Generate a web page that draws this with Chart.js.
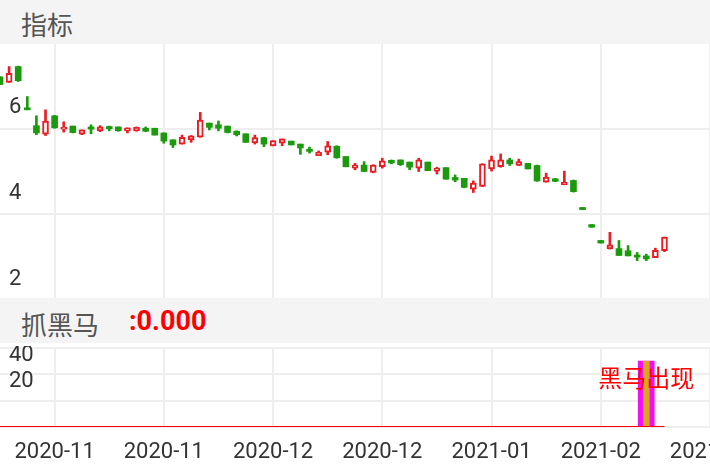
<!DOCTYPE html>
<html>
<head>
<meta charset="utf-8">
<script src="https://cdn.jsdelivr.net/npm/chart.js@4.4.0/dist/chart.umd.min.js"></script>
<style>
  html, body { margin: 0; padding: 0; background: #fff; }
  #wrap { position: relative; width: 710px; height: 472px; overflow: hidden; }
  .band { position: absolute; left: 0; width: 710px; background: #f4f4f4; z-index: 2; }
  .band span { position: absolute; white-space: nowrap; }
  .title { color: #555; font: 26px "Noto Sans CJK SC", sans-serif; }
  .value { color: #ff0000; font: bold 27px Roboto, sans-serif; }
  #priceChart { position: absolute; left: 0; top: 43px; }
  #signalChart { position: absolute; left: 0; top: 346px; }
</style>
</head>
<body>
<div id="wrap">
  <div class="band" style="top:0;height:44px">
    <span class="title" style="left:21px;top:5px">指标</span>
  </div>
  <canvas id="priceChart" width="710" height="257"></canvas>
  <div class="band" style="top:298px;height:45px">
    <span class="title" style="left:21px;top:7px">抓黑马</span>
    <span class="value" style="left:129px;top:7px">:0.000</span>
  </div>
  <canvas id="signalChart" width="710" height="126"></canvas>
</div>
<script>
// trading days (last few slots are empty, the axis runs past the data)
const tradeDates = [
  '2020-10-30','2020-11-02','2020-11-03','2020-11-04','2020-11-05','2020-11-06',
  '2020-11-09','2020-11-10','2020-11-11','2020-11-12','2020-11-13',
  '2020-11-16','2020-11-17','2020-11-18','2020-11-19','2020-11-20',
  '2020-11-23','2020-11-24','2020-11-25','2020-11-26','2020-11-27',
  '2020-11-30','2020-12-01','2020-12-02','2020-12-03','2020-12-04',
  '2020-12-07','2020-12-08','2020-12-09','2020-12-10','2020-12-11',
  '2020-12-14','2020-12-15','2020-12-16','2020-12-17','2020-12-18',
  '2020-12-21','2020-12-22','2020-12-23','2020-12-24','2020-12-25',
  '2020-12-28','2020-12-29','2020-12-30','2020-12-31',
  '2021-01-04','2021-01-05','2021-01-06','2021-01-07','2021-01-08',
  '2021-01-11','2021-01-12','2021-01-13','2021-01-14','2021-01-15',
  '2021-01-18','2021-01-19','2021-01-20','2021-01-21','2021-01-22',
  '2021-01-25','2021-01-26','2021-01-27','2021-01-28','2021-01-29',
  '2021-02-01','2021-02-02','2021-02-03','2021-02-04','2021-02-05',
  '2021-02-08','2021-02-09','2021-02-10',
  '2021-02-18','2021-02-19','2021-02-22','2021-02-23','2021-02-24','2021-02-25'
];

const openPrices = [
  7.21, 7.08, 7.45, 6.46, 6.07, 5.87, 6.30, 5.99, 6.06, 5.87,
  6.04, 5.95, 6.05, 6.04, 5.95, 5.95, 6.01, 6.01, 5.90, 5.74,
  5.64, 5.74, 5.80, 6.13, 6.09, 6.06, 5.94, 5.88, 5.67, 5.79,
  5.60, 5.66, 5.71, 5.64, 5.52, 5.37, 5.45, 5.59, 5.35, 5.08,
  5.15, 4.98, 5.11, 5.26, 5.27, 5.22, 5.08, 5.22, 5.01, 5.09,
  4.86, 4.84, 4.59, 4.65, 5.06, 5.11, 5.27, 5.14, 5.19, 5.14,
  4.75, 4.83, 4.69, 4.79, 4.16, 3.76, 3.39, 3.19, 3.20, 3.15,
  3.05, 3.03, 2.99, 3.15
];
const highPrices = [
  7.21, 7.45, 7.46, 6.75, 6.30, 6.44, 6.31, 6.16, 6.06, 5.97,
  6.09, 6.07, 6.06, 6.04, 6.02, 6.04, 6.04, 6.01, 5.90, 5.74,
  5.85, 5.84, 6.38, 6.13, 6.18, 6.06, 5.95, 5.88, 5.85, 5.80,
  5.72, 5.76, 5.71, 5.64, 5.57, 5.48, 5.70, 5.60, 5.35, 5.19,
  5.23, 5.16, 5.31, 5.27, 5.27, 5.22, 5.31, 5.22, 5.10, 5.09,
  4.92, 4.84, 4.78, 5.18, 5.36, 5.41, 5.31, 5.29, 5.19, 5.15,
  4.96, 4.84, 5.01, 4.80, 4.16, 3.76, 3.39, 3.58, 3.39, 3.27,
  3.11, 3.07, 3.21, 3.47
];
const lowPrices = [
  7.03, 7.08, 7.10, 6.44, 5.86, 5.84, 6.01, 5.92, 5.90, 5.86,
  5.88, 5.93, 5.95, 5.94, 5.90, 5.94, 5.93, 5.85, 5.66, 5.56,
  5.64, 5.68, 5.80, 5.97, 5.95, 5.90, 5.83, 5.68, 5.64, 5.58,
  5.60, 5.60, 5.62, 5.40, 5.43, 5.37, 5.39, 5.31, 5.11, 5.04,
  5.00, 4.97, 5.08, 5.18, 5.14, 5.04, 5.00, 5.02, 4.94, 4.82,
  4.76, 4.62, 4.51, 4.65, 5.01, 5.10, 5.14, 5.14, 5.06, 4.77,
  4.75, 4.76, 4.69, 4.52, 4.11, 3.70, 3.33, 3.19, 3.04, 3.03,
  2.92, 2.92, 2.99, 3.13
];
const closePrices = [
  7.03, 7.29, 7.12, 6.44, 5.90, 6.18, 6.02, 6.02, 5.91, 5.97,
  5.99, 6.04, 6.00, 5.95, 6.02, 6.03, 5.94, 5.85, 5.71, 5.62,
  5.80, 5.83, 6.20, 6.03, 6.01, 5.91, 5.86, 5.68, 5.79, 5.64,
  5.72, 5.76, 5.62, 5.55, 5.47, 5.45, 5.60, 5.32, 5.11, 5.15,
  5.00, 5.15, 5.25, 5.20, 5.16, 5.10, 5.27, 5.02, 5.08, 4.82,
  4.80, 4.63, 4.73, 5.18, 5.27, 5.27, 5.18, 5.23, 5.06, 4.78,
  4.87, 4.77, 4.75, 4.53, 4.11, 3.70, 3.33, 3.29, 3.04, 3.03,
  3.00, 2.96, 3.16, 3.47
];

// 抓黑马 indicator
const horseLine = [
  0, 0, 0, 0, 0, 0, 0, 0, 0, 0,
  0, 0, 0, 0, 0, 0, 0, 0, 0, 0,
  0, 0, 0, 0, 0, 0, 0, 0, 0, 0,
  0, 0, 0, 0, 0, 0, 0, 0, 0, 0,
  0, 0, 0, 0, 0, 0, 0, 0, 0, 0,
  0, 0, 0, 0, 0, 0, 0, 0, 0, 0,
  0, 0, 0, 0, 0, 0, 0, 0, 0, 0,
  0, 0, 0, 0
];
const signalDates = ['2021-02-09'];
const signalValues = [50];
const signalText = '黑马出现';

const priceTicks = [2, 4, 6];
const signalTicks = [20, 40];

const RED = '#ea1c24';
const GREEN = '#1b9a0e';
const GRID = '#eeeeee';
const AXIS_FONT = { family: 'Roboto', size: 22 };

const isUp = openPrices.map((o, i) => closePrices[i] >= o);

// vertical grid only every 12 trading days
function vGrid(ctx) {
  return (ctx.index - 6) % 12 === 0 ? GRID : 'rgba(0,0,0,0)';
}

// keep the plot area at the full canvas, labels sit inside it
function flatX(h) {
  return scale => { scale.height = h; scale.paddingLeft = 0; scale.paddingRight = 0; };
}
function flatY(scale) {
  scale.width = 0;
  scale.paddingTop = 0;
  scale.paddingBottom = 0;
}

new Chart(document.getElementById('priceChart'), {
  type: 'bar',
  data: {
    labels: tradeDates,
    datasets: [
      {
        label: 'body',
        data: openPrices.map((o, i) => [o, closePrices[i]]),
        backgroundColor: isUp.map(u => u ? '#ffffff' : GREEN),
        borderColor: isUp.map(u => u ? RED : GREEN),
        borderWidth: isUp.map(u => u ? 2 : 0),
        borderSkipped: false,
        barThickness: 6,
        minBarLength: 2,
        grouped: false,
        order: 0
      },
      {
        label: 'wick',
        data: lowPrices.map((l, i) => [l, highPrices[i]]),
        backgroundColor: isUp.map(u => u ? RED : GREEN),
        borderWidth: 0,
        barThickness: 2,
        minBarLength: 1,
        grouped: false,
        order: 1
      }
    ]
  },
  options: {
    responsive: false,
    animation: false,
    layout: { padding: 0 },
    plugins: { legend: { display: false }, tooltip: { enabled: false } },
    scales: {
      x: {
        offset: false,
        grid: { offset: false, color: vGrid, lineWidth: 2, drawTicks: false },
        border: { display: false },
        ticks: { display: false },
        afterFit: flatX(0)
      },
      y: {
        min: 2,
        max: 8,
        grid: { color: GRID, lineWidth: 2, drawTicks: false },
        border: { display: false },
        ticks: {
          stepSize: 2,
          autoSkip: false,
          mirror: true,
          padding: 9,
          labelOffset: -21,
          color: '#333',
          font: AXIS_FONT,
          callback: v => priceTicks.includes(v) ? String(v) : ''
        },
        afterFit: flatY
      }
    }
  }
});

const signalTextPlugin = {
  id: 'signalText',
  afterDatasetsDraw(chart) {
    const { ctx, scales } = chart;
    ctx.save();
    ctx.font = '24px "Noto Sans CJK SC"';
    ctx.fillStyle = '#ff0000';
    ctx.textAlign = 'center';
    ctx.textBaseline = 'middle';
    signalDates.forEach(d => {
      const x = scales.x.getPixelForValue(tradeDates.indexOf(d));
      const y = scales.y.getPixelForValue(37);
      ctx.fillText(signalText, x, y);
    });
    ctx.restore();
  }
};

new Chart(document.getElementById('signalChart'), {
  type: 'bar',
  data: {
    labels: tradeDates,
    datasets: [
      {
        type: 'line',
        label: '抓黑马',
        data: horseLine,
        borderColor: '#ff0000',
        borderWidth: 2,
        pointRadius: 0,
        order: 0
      },
      {
        label: 'signal',
        data: signalDates.map((d, i) => ({ x: d, y: signalValues[i] })),
        backgroundColor: '#daa520',
        barThickness: 6,
        grouped: false,
        order: 1
      },
      {
        label: 'signalWide',
        data: signalDates.map((d, i) => ({ x: d, y: signalValues[i] })),
        backgroundColor: '#f010f0',
        barThickness: 16,
        grouped: false,
        order: 2
      }
    ]
  },
  options: {
    responsive: false,
    animation: false,
    layout: { padding: { top: 2 } },
    plugins: { legend: { display: false }, tooltip: { enabled: false } },
    scales: {
      x: {
        offset: false,
        grid: { offset: false, color: vGrid, lineWidth: 2, drawTicks: false },
        border: { display: false },
        ticks: {
          autoSkip: false,
          maxRotation: 0,
          minRotation: 0,
          padding: 12,
          color: '#333',
          font: AXIS_FONT,
          callback: (v, i) => (i - 6) % 12 === 0 ? tradeDates[i].slice(0, 7) : ''
        },
        afterFit: flatX(45)
      },
      y: {
        min: 0,
        max: 60,
        grid: { color: GRID, lineWidth: 2, drawTicks: false },
        border: { display: false },
        ticks: {
          stepSize: 20,
          autoSkip: false,
          mirror: true,
          padding: 9,
          labelOffset: -19,
          color: '#333',
          font: AXIS_FONT,
          callback: v => signalTicks.includes(v) ? String(v) : ''
        },
        afterFit: flatY
      }
    }
  },
  plugins: [signalTextPlugin]
});
</script>
</body>
</html>
